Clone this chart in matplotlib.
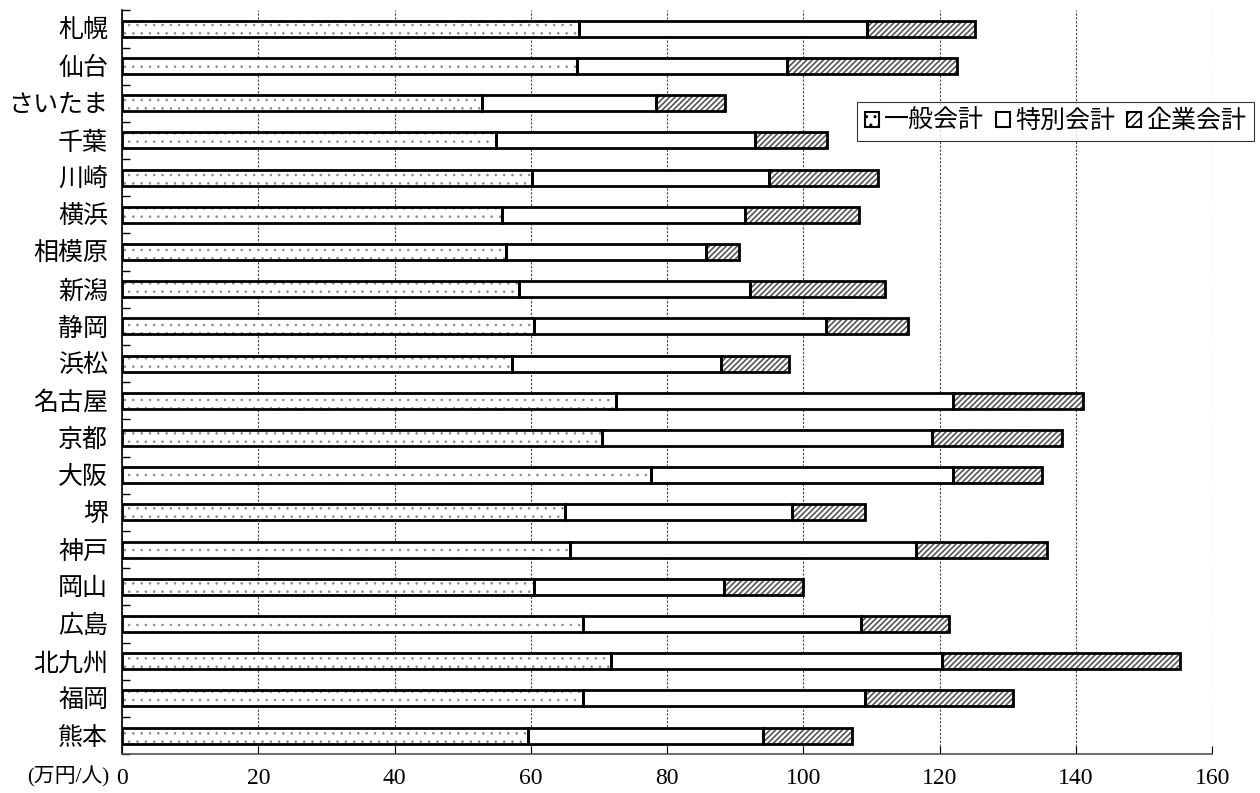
import matplotlib
matplotlib.use('Agg')
import matplotlib.pyplot as plt
from matplotlib.patches import Patch
import numpy as np

plt.rcParams['font.family'] = ['Liberation Serif', 'Noto Sans CJK JP']

cities = ['札幌', '仙台', 'さいたま', '千葉', '川崎', '横浜', '相模原', '新潟', '静岡', '浜松',
          '名古屋', '京都', '大阪', '堺', '神戸', '岡山', '広島', '北九州', '福岡', '熊本']
# 万円/人
general = [67.1, 66.8, 52.9, 54.9, 60.1, 55.7, 56.3, 58.3, 60.5, 57.3,
           72.5, 70.4, 77.7, 65.0, 65.8, 60.5, 67.7, 71.8, 67.7, 59.6]
special = [42.3, 30.8, 25.5, 38.0, 34.9, 35.8, 29.4, 33.8, 42.8, 30.6,
           49.5, 48.5, 44.3, 33.4, 50.7, 27.9, 40.8, 48.5, 41.4, 34.4]
enterprise = [15.8, 25.0, 10.1, 10.6, 15.9, 16.6, 4.8, 19.9, 12.1, 10.0,
              19.0, 19.0, 13.0, 10.7, 19.3, 11.5, 12.8, 34.9, 21.7, 13.1]
legend_labels = ['一般会計', '特別会計', '企業会計']

fig = plt.figure(figsize=(12.6, 7.93), dpi=100)
ax = fig.add_axes([0.0968, 0.049, 0.8653, 0.938])

y = np.arange(len(cities))
h = 0.43
g = np.array(general)
s = np.array(special)
e = np.array(enterprise)

# hatched fills in grey, then black outlines on top
with plt.rc_context({'hatch.linewidth': 0.6}):
    ax.barh(y, g, height=h, color='white', edgecolor='#8a8a8a', hatch='..', linewidth=0, zorder=2)
ax.barh(y, s, left=g, height=h, color='white', linewidth=0, zorder=2)
with plt.rc_context({'hatch.linewidth': 1.2}):
    ax.barh(y, e, left=g + s, height=h, color='white', edgecolor='#555555', hatch='//////', linewidth=0, zorder=2)
for vals, left in [(g, 0), (s, g), (e, g + s)]:
    ax.barh(y, vals, left=left, height=h, fill=False, edgecolor='black', linewidth=2, zorder=3)

ax.set_xlim(0, 160)
ax.set_ylim(len(cities) - 0.5, -0.5)
ax.set_xticks(np.arange(0, 161, 20))
ax.set_yticks(y)
ax.set_yticklabels(cities)
ax.set_yticks(np.arange(-0.5, len(cities), 1), minor=True)
ax.tick_params(axis='y', which='major', length=0, pad=10, labelsize=18)
ax.tick_params(axis='y', which='minor', direction='in', length=6, width=1)
ax.tick_params(axis='x', direction='in', length=6, pad=10, labelsize=17)

ax.grid(axis='x', linestyle=(0, (2, 1.5)), color='#444444', linewidth=0.8, zorder=0)
ax.spines['top'].set_visible(False)
ax.spines['right'].set_visible(False)
ax.spines['left'].set_linewidth(1.2)
ax.spines['bottom'].set_color('#555555')
ax.spines['bottom'].set_linewidth(1.2)

fig.text(0.087, 1 - 777 / 793, '(万円/人)', ha='right', va='center', fontsize=15)

handles = [Patch(facecolor='white', edgecolor='black', hatch='..', linewidth=1.5),
           Patch(facecolor='white', edgecolor='black', linewidth=1.5),
           Patch(facecolor='white', edgecolor='black', hatch='////', linewidth=1.5)]
leg = fig.legend(handles, legend_labels, loc='upper right', bbox_to_anchor=(0.995, 0.871),
                 ncol=3, fontsize=18, frameon=True, fancybox=False, edgecolor='black',
                 handlelength=0.55, handleheight=0.55, handletextpad=0.2, columnspacing=0.5,
                 borderpad=0.3, borderaxespad=0)
leg.get_frame().set_linewidth(0.8)

fig.savefig('out.png', dpi=100)
